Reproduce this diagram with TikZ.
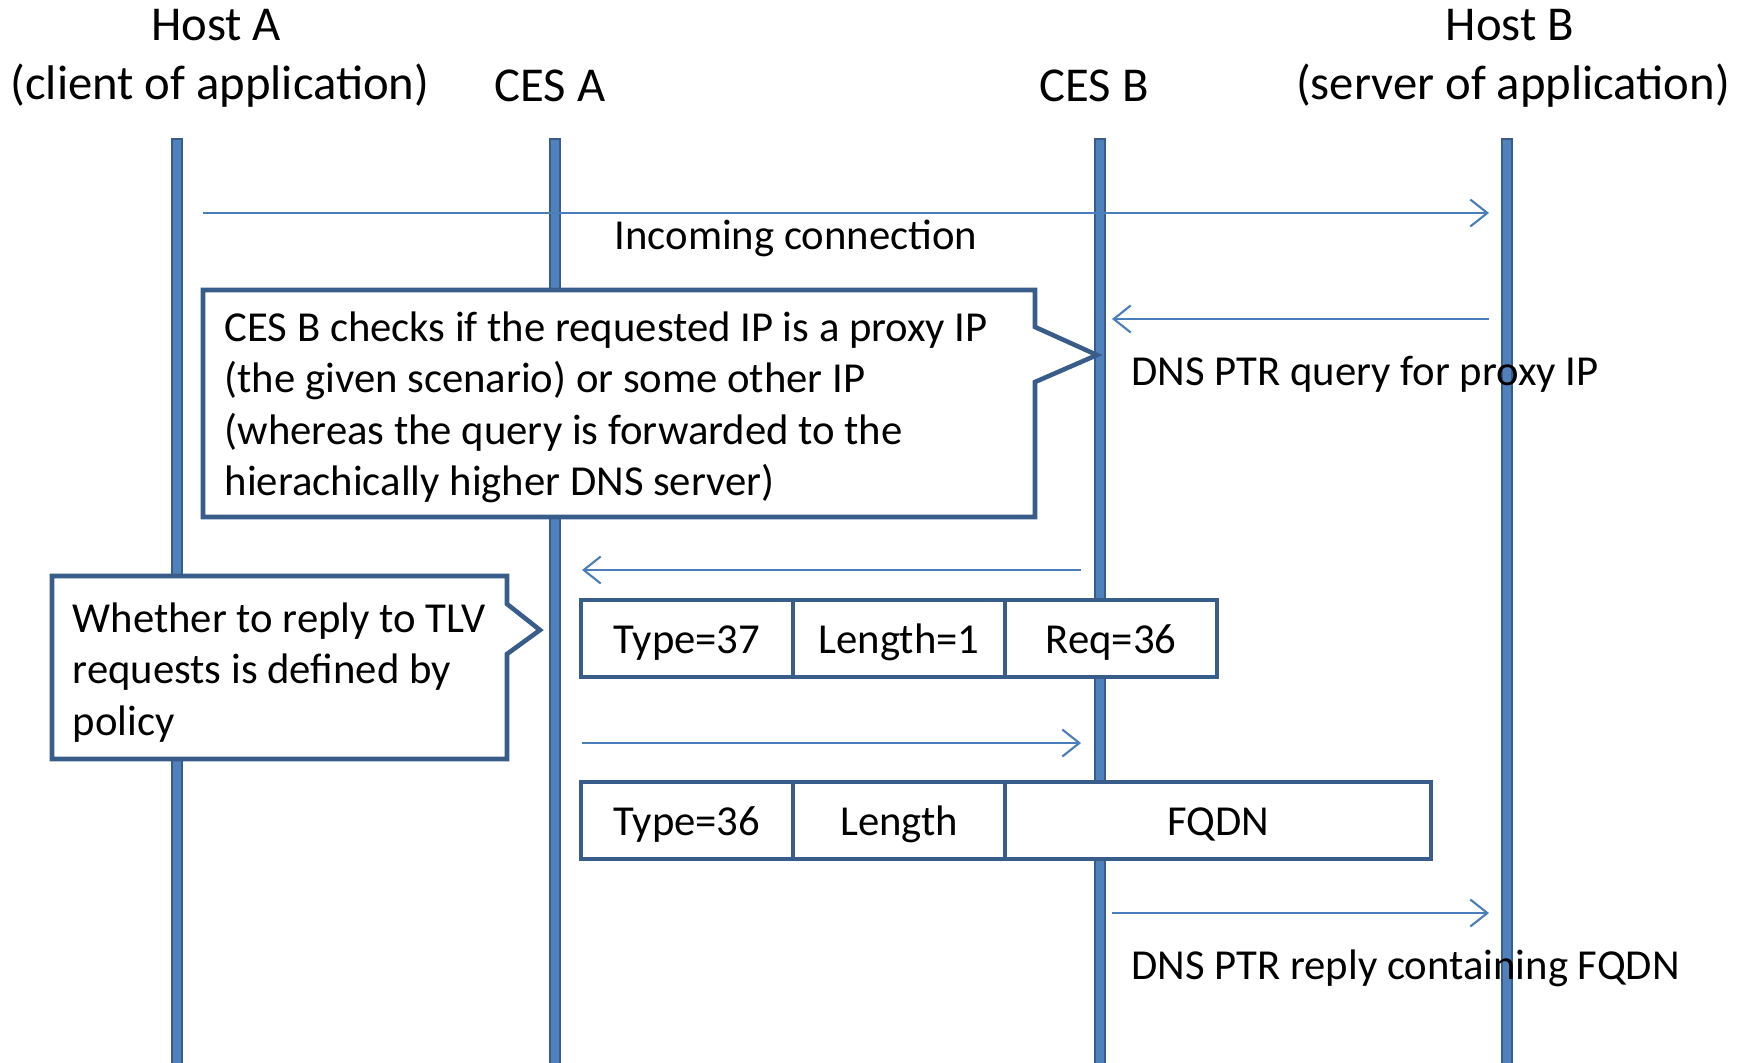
\documentclass[tikz,border=0pt]{standalone}
\usepackage{fontspec}
\setmainfont{Carlito}
\usetikzlibrary{arrows.meta,positioning}
\definecolor{lifeblue}{HTML}{4F81BD}
\definecolor{edgeblue}{HTML}{385D8A}
\definecolor{msgblue}{HTML}{4A7EBB}
\begin{document}
\begin{tikzpicture}[line join=miter,
	head/.style={font=\fontsize{13.85}{16.7}\selectfont, inner sep=0, anchor=base},
	txt/.style={font=\fontsize{12.15}{14.65}\selectfont, inner sep=0},
	msg/.style={-{Straight Barb[length=1.7mm,width=2.7mm]}, msgblue, line width=0.6pt},
	note/.style={draw=edgeblue, fill=white, line width=1.3pt},
	cell/.style={draw=edgeblue, fill=white, line width=1.3pt, minimum height=0.77cm, minimum width=2.12cm, outer sep=0, inner sep=0, text height=0.87em, text depth=0pt, font=\fontsize{12.15}{14.65}\selectfont}]
	\useasboundingbox (0,0) rectangle (17.38,-10.62);
	\node[head] (hostA) at (2.16,-0.40) {Host A};
	\node[head] (hostAsub) at (2.20,-0.99) {(client of application)};
	\node[head] (cesA) at (5.50,-1.01) {CES A};
	\node[head] (cesB) at (10.94,-1.01) {CES B};
	\node[head] (hostB) at (15.10,-0.40) {Host B};
	\node[head] (hostBsub) at (15.13,-0.99) {(server of application)};
	\foreach \x in {1.77,5.55,11.00,15.07}{
		\draw[fill=lifeblue, draw=edgeblue, line width=0.8pt] (\x-0.05,-1.39) rectangle (\x+0.05,-10.70);
	}
	\coordinate (inS) at (2.03,-2.13);
	\coordinate (inE) at (14.89,-2.13);
	\coordinate (qS) at (14.89,-3.19);
	\coordinate (qE) at (11.12,-3.19);
	\coordinate (tlvS) at (10.81,-5.70);
	\coordinate (tlvE) at (5.82,-5.70);
	\coordinate (ansS) at (5.82,-7.43);
	\coordinate (ansE) at (10.81,-7.43);
	\coordinate (repS) at (11.12,-9.13);
	\coordinate (repE) at (14.89,-9.13);
	\draw[msg] (inS) -- (inE);
	\draw[msg] (qS) -- (qE);
	\draw[msg] (tlvS) -- (tlvE);
	\draw[msg] (ansS) -- (ansE);
	\draw[msg] (repS) -- (repE);
	\node[txt, anchor=base] (incoming) at (7.96,-2.49) {Incoming connection};
	\node[txt, anchor=base west] (query) at (11.31,-3.85) {DNS PTR query for proxy IP};
	\node[txt, anchor=base west] (reply) at (11.31,-9.79) {DNS PTR reply containing FQDN};
	\draw[note] (2.03,-2.90) -- (10.35,-2.90) -- (10.35,-3.27) -- (10.97,-3.55) -- (10.35,-3.82) -- (10.35,-5.17) -- (2.03,-5.17) -- cycle;
	\node[txt, anchor=north west, align=left] (check) at (2.24,-3.11) {CES B checks if the requested IP is a proxy IP\\(the given scenario) or some other IP\\(whereas the query is forwarded to the\\hierachically higher DNS server)};
	\draw[note] (0.52,-5.76) -- (5.07,-5.76) -- (5.07,-6.04) -- (5.40,-6.30) -- (5.07,-6.54) -- (5.07,-7.59) -- (0.52,-7.59) -- cycle;
	\node[txt, anchor=north west, align=left] (policy) at (0.72,-6.02) {Whether to reply to TLV\\requests is defined by\\policy};
	\node[cell, anchor=north west] (type1) at (5.81,-6.00) {Type=37};
	\node[cell, right=0pt of type1] (len1) {Length=1};
	\node[cell, right=0pt of len1] (req1) {Req=36};
	\node[cell, anchor=north west] (type2) at (5.81,-7.82) {Type=36};
	\node[cell, right=0pt of type2] (len2) {Length};
	\node[cell, right=0pt of len2, minimum width=4.26cm] (fqdn) {FQDN};
\end{tikzpicture}
\end{document}
